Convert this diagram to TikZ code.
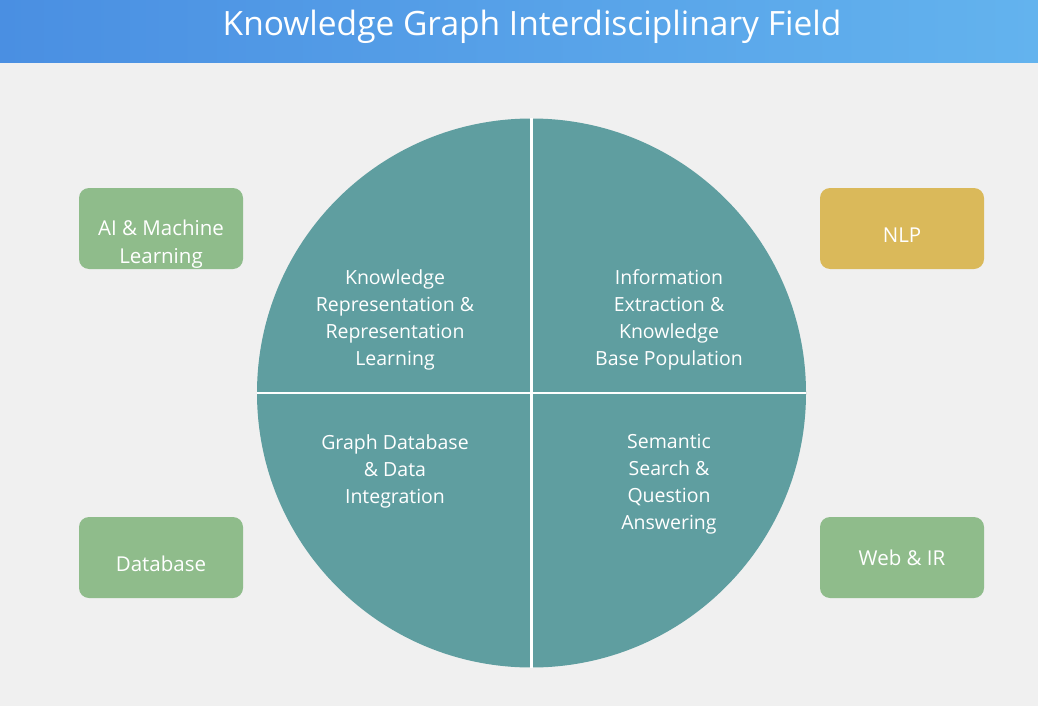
\documentclass[tikz,border=0pt]{standalone}
\usepackage{fontspec}
\setmainfont{Open Sans}
\usetikzlibrary{positioning}
\definecolor{titleleft}{HTML}{4A8FE2}
\definecolor{titleright}{HTML}{63B3EE}
\definecolor{canvas}{HTML}{F0F0F0}
\definecolor{quadrant}{HTML}{5F9EA0}
\definecolor{fieldgreen}{HTML}{8FBC8B}
\definecolor{fieldgold}{HTML}{DAB95A}

\begin{document}
\begin{tikzpicture}[x=1pt, y=-1pt,
  fieldbox/.style={rounded corners=10pt, minimum width=164pt, minimum height=81pt,
                   inner sep=0pt, fill=fieldgreen},
  fieldtext/.style={text=white, font=\fontsize{20.5}{28}\selectfont, align=center},
  disc/.style={circle, minimum size=549pt, inner sep=0pt, fill=quadrant},
  quadtext/.style={text=white, font=\fontsize{19.5}{27}\selectfont, align=center},
  divider/.style={white, line width=2.5pt}
]
  \fill[canvas] (0,0) rectangle (1038,706);
  \useasboundingbox (0,0) rectangle (1038,706);
  \shade[left color=titleleft, right color=titleright] (0,0) rectangle (1038,63);
  \node[text=white, font=\fontsize{33.5}{40}\selectfont] (title) at (532,27)
    {Knowledge Graph Interdisciplinary Field};

  % central circle and its quarters
  \node[disc] (disc) at (531.5,393) {};
  \draw[divider] (disc.north) -- (disc.south);
  \draw[divider] (disc.west) -- (disc.east);

  \node[quadtext] (krl) at (395,320) {Knowledge\\Representation \&\\Representation\\Learning};
  \node[quadtext] (iekbp) at (669,320) {Information\\Extraction \&\\Knowledge\\Base Population};
  \node[quadtext] (gddi) at (395,471) {Graph Database\\\& Data\\Integration};
  \node[quadtext] (ssqa) at (669,484) {Semantic\\Search \&\\Question\\Answering};

  % fields around it
  \node[fieldbox] (ai) at (161,228.5) {};
  \node[fieldbox, fill=fieldgold] (nlp) at (902,228.5) {};
  \node[fieldbox] (db) at (161,557.5) {};
  \node[fieldbox] (web) at (902,557.5) {};

  \node[fieldtext] (aitext) at ([yshift=-16pt]ai.center) {AI \& Machine\\Learning};
  \node[fieldtext] (nlptext) at ([yshift=-7pt]nlp.center) {NLP};
  \node[fieldtext] (dbtext) at ([yshift=-6pt]db.center) {Database};
  \node[fieldtext] (webtext) at ([yshift=0pt]web.center) {Web \& IR};
\end{tikzpicture}
\end{document}
